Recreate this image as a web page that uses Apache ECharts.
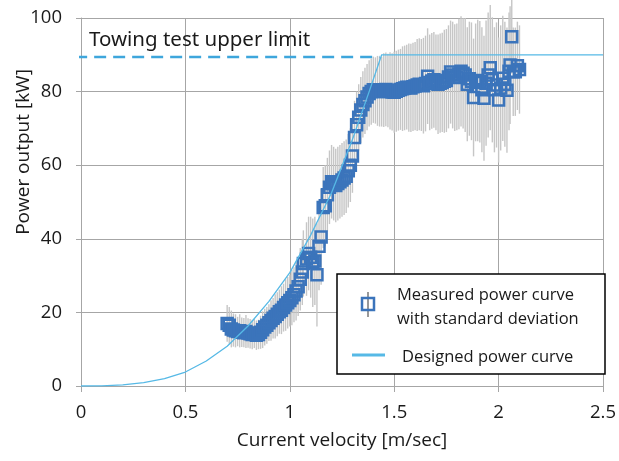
<!DOCTYPE html>
<html>
<head>
<meta charset="utf-8">
<script src="https://cdn.jsdelivr.net/npm/echarts@6/dist/echarts.min.js"></script>
<style>html,body{margin:0;padding:0;background:#fff;}#c{width:619px;height:461px;}</style>
</head>
<body>
<div id="c"></div>
<script>
// Measured power curve (velocity m/s, power kW, standard deviation kW)
const velocity = [0.70,0.71,0.72,0.73,0.74,0.75,0.76,0.77,0.78,0.79,0.80,0.81,0.82,0.83,0.84,0.85,0.86,0.87,0.88,0.89,0.90,0.91,0.92,0.93,0.94,0.95,0.96,0.97,0.98,0.99,1.00,1.01,1.02,1.03,1.04,1.05,1.06,1.065,1.08,1.09,1.10,1.11,1.12,1.13,1.14,1.15,1.16,1.17,1.18,1.19,1.20,1.21,1.22,1.23,1.24,1.25,1.26,1.27,1.28,1.29,1.30,1.31,1.32,1.33,1.34,1.35,1.36,1.37,1.38,1.39,1.40,1.41,1.42,1.43,1.44,1.45,1.46,1.47,1.48,1.49,1.50,1.51,1.52,1.53,1.54,1.55,1.56,1.57,1.58,1.59,1.60,1.61,1.62,1.63,1.64,1.65,1.66,1.67,1.68,1.69,1.70,1.71,1.72,1.73,1.74,1.75,1.76,1.77,1.78,1.79,1.80,1.81,1.82,1.83,1.84,1.85,1.86,1.87,1.88,1.89,1.90,1.91,1.92,1.93,1.94,1.95,1.96,1.97,1.98,1.99,2.00,2.01,2.02,2.03,2.04,2.05,2.055,2.063,2.07,2.08,2.09,2.10];
const power = [17.0,16.5,15.5,15.2,15.0,14.8,15.0,14.6,14.5,14.8,14.4,14.2,14.0,14.3,13.8,14.0,14.6,15.3,16.0,16.5,17.2,17.8,18.4,18.9,19.5,20.2,20.6,21.3,22.0,22.6,23.2,24.0,24.8,25.8,27.0,29.0,31.0,33.3,34.5,36.0,35.0,33.5,34.0,30.2,38.0,40.5,48.5,49.0,52.0,54.0,55.5,55.0,54.5,55.0,55.5,56.0,56.5,57.0,58.5,60.0,62.5,67.5,71.0,73.0,75.0,76.5,77.5,78.5,79.5,80.0,80.5,80.3,80.2,80.0,80.0,80.4,80.6,80.3,80.2,79.9,79.8,80.1,80.4,80.6,80.8,81.0,81.2,81.1,81.0,81.3,81.5,81.8,82.0,81.8,81.6,82.2,84.2,82.5,82.9,83.2,82.5,82.0,82.3,82.5,82.8,83.0,84.0,85.3,84.5,83.8,84.0,84.8,85.5,85.0,84.5,82.0,83.5,82.8,78.4,82.5,83.0,82.7,80.5,78.2,82.3,84.5,86.5,83.2,80.5,81.8,77.7,81.0,83.6,82.0,80.4,85.5,87.2,94.9,85.4,85.4,87.0,86.0];
const stdDev = [5,5,5,4.5,4.5,4,4.5,4,4,4.5,4,4,4,4,4,4,4.5,5,5,5,5,5.5,5.5,6,6,6,6.5,6.5,7,7,7,7.5,7.5,8,8,8.5,9,9,10,10,11,12,12,14,12,13,11,11,10,10,10,10,10,10,10,10,10,10,10,10,10,10,9,9,9,9,9,9,9,9,9,9,9.5,9.5,9.5,10,10,10,10.5,10.5,11,11,11,11,11.5,11.5,11.5,12,12,12,12,12.5,12.5,12.5,13,13,13,13,13,13,13,13.5,13.5,13.5,14,14,14,14,14.5,14.5,14.5,15,15,15,15.5,15.5,15.5,16,16,16,16.5,16.5,17,17,17,17,17,17,17,17,17,17,17,17,17,16,16,10,12,12,12,12];

// Designed power curve
const designVel = [0,0.1,0.2,0.3,0.4,0.5,0.6,0.7,0.8,0.9,1.0,1.1,1.2,1.3,1.38,1.44,2.5];
const designPow = [0,0.05,0.3,0.9,2.0,3.8,6.8,10.8,16.3,23.0,30.8,41.0,52.5,67.0,80.0,90.0,90.0];

// Towing test upper limit
const limitVel = [-0.21, 1.43];
const limitPow = 89.4;

const xTicks = {min:0, max:2.5, interval:0.5};
const yTicks = {min:0, max:100, interval:20};

const chart = echarts.init(document.getElementById('c'), null, {renderer:'canvas'});
const gridColor = '#a6a6a6';
const font = 'Open Sans';

chart.setOption({
  animation:false,
  backgroundColor:'#fff',
  title:{
    text:'Towing test upper limit',
    left:89, top:30, padding:0,
    textStyle:{fontFamily:'Noto Sans', fontWeight:'normal', fontSize:20.5, color:'#1a1a1a'}
  },
  grid:{left:81, right:16, top:18, bottom:75, containLabel:false, outerBoundsMode:'none'},
  xAxis:{
    type:'value', min:xTicks.min, max:xTicks.max, interval:xTicks.interval,
    name:'Current velocity [m/sec]', nameLocation:'middle', nameGap:45, nameMoveOverlap:false,
    nameTextStyle:{fontFamily:font, fontSize:19, color:'#1a1a1a'},
    axisLine:{show:true, onZero:false, lineStyle:{color:gridColor, width:1}},
    axisTick:{show:true, length:6, lineStyle:{color:gridColor}},
    axisLabel:{fontFamily:font, fontSize:18.5, color:'#1a1a1a', margin:17},
    splitLine:{show:true, lineStyle:{color:gridColor, width:1}}
  },
  yAxis:{
    type:'value', min:yTicks.min, max:yTicks.max, interval:yTicks.interval,
    name:'Power output [kW]', nameLocation:'middle', nameGap:48, nameMoveOverlap:false,
    nameTextStyle:{fontFamily:font, fontSize:19, color:'#1a1a1a', padding:[0,0,0,100]},
    axisLine:{show:true, lineStyle:{color:gridColor, width:1}},
    axisTick:{show:true, length:5, lineStyle:{color:gridColor}},
    axisLabel:{fontFamily:font, fontSize:18.5, color:'#1a1a1a', margin:19},
    splitLine:{show:true, lineStyle:{color:gridColor, width:1}}
  },
  series:[
    {
      name:'stddev', type:'custom', z:2, clip:false,
      data: velocity.map((v,i)=>[v, power[i], stdDev[i]]),
      encode:{x:0, y:1},
      renderItem:function(params, api){
        const v = api.value(0), p = api.value(1), s = api.value(2);
        const a = api.coord([v, p + s]);
        const b = api.coord([v, p - s]);
        return {type:'line', shape:{x1:a[0], y1:a[1], x2:b[0], y2:b[1]},
                style:{stroke:'#c6c6c6', lineWidth:1.4}};
      }
    },
    {
      name:'Measured power curve', type:'scatter', z:3,
      symbol:'rect', symbolSize:11,
      data: velocity.map((v,i)=>[v, power[i]]),
      itemStyle:{color:'rgba(255,255,255,0)', borderColor:'#3b74bb', borderWidth:2.5, opacity:1}
    },
    {
      name:'Upper limit', type:'line', z:4, clip:false, showSymbol:false, symbol:'none',
      data: limitVel.map(v=>[v, limitPow]),
      lineStyle:{color:'#3ea6dc', width:2.5, type:[12,7]}
    },
    {
      name:'Designed power curve', type:'line', z:5, showSymbol:false, symbol:'none',
      data: designVel.map((v,i)=>[v, designPow[i]]),
      lineStyle:{color:'#56b9e6', width:1.3}
    }
  ],
  graphic:[
    {type:'rect', z:100, shape:{x:337, y:274, width:268, height:100},
     style:{fill:'#fff', stroke:'#000', lineWidth:1.5}},
    {type:'line', z:101, shape:{x1:368, y1:292, x2:368, y2:317}, style:{stroke:'#999', lineWidth:2}},
    {type:'rect', z:102, shape:{x:362, y:298, width:12, height:12},
     style:{fill:'none', stroke:'#3b74bb', lineWidth:2.5}},
    {type:'line', z:101, shape:{x1:352, y1:355, x2:385, y2:355}, style:{stroke:'#56b9e6', lineWidth:3}},
    {type:'text', z:101, x:397, y:295, style:{text:'Measured power curve', fontFamily:font, fontSize:16.5, fill:'#1a1a1a', textVerticalAlign:'middle'}},
    {type:'text', z:101, x:397, y:319, style:{text:'with standard deviation', fontFamily:font, fontSize:16.5, fill:'#1a1a1a', textVerticalAlign:'middle'}},
    {type:'text', z:101, x:402, y:357, style:{text:'Designed power curve', fontFamily:font, fontSize:16.5, fill:'#1a1a1a', textVerticalAlign:'middle'}}
  ]
});
</script>
</body>
</html>
